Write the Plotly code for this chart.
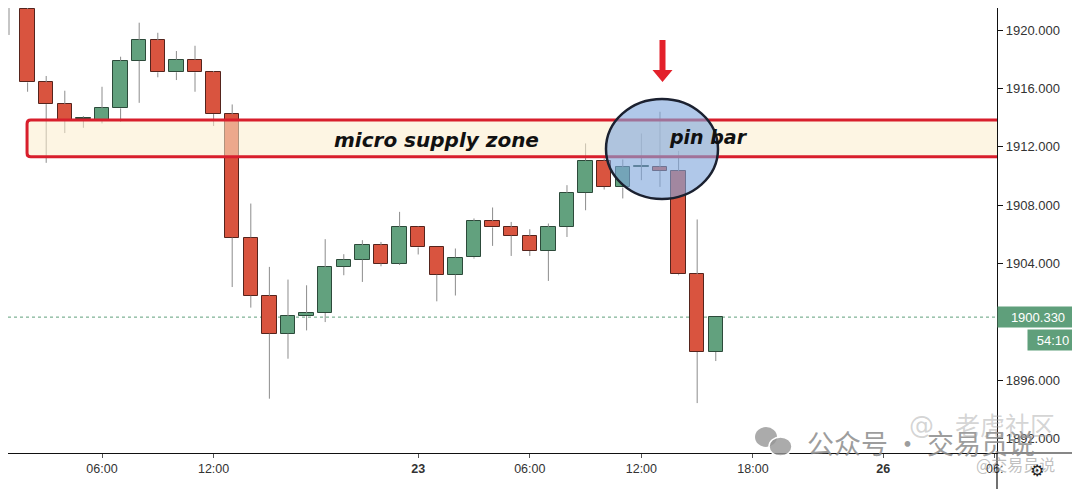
import plotly.graph_objects as go

# ---------------- data (hourly candles, index positions) ----------------
opens = [1921.5, 1921.44, 1916.41, 1914.92, 1913.9, 1913.83, 1914.63, 1917.89, 1919.29, 1917.1,
         1917.96, 1917.1, 1914.22, 1905.78, 1901.78, 1899.2, 1900.4, 1900.61, 1903.77, 1904.27,
         1905.25, 1904.0, 1906.51, 1905.1, 1903.24, 1904.43, 1906.92, 1906.47, 1905.89, 1904.86,
         1906.51, 1908.84, 1911.04, 1909.21, 1910.62, 1910.62, 1910.33, 1903.26, 1897.94]
highs = [1922.5, 1922.3, 1916.85, 1915.84, 1914.1, 1916.11, 1918.17, 1920.5, 1919.81, 1918.56,
         1918.92, 1917.19, 1914.9, 1908.11, 1903.77, 1902.9, 1902.51, 1905.67, 1904.64, 1905.6,
         1905.48, 1907.54, 1906.55, 1905.1, 1905.03, 1907.09, 1907.84, 1906.85, 1906.35, 1906.74,
         1909.37, 1912.23, 1911.2, 1911.13, 1912.91, 1914.4, 1911.72, 1907.02, 1900.33]
lows = [1919.66, 1915.77, 1910.9, 1912.94, 1913.3, 1913.6, 1913.71, 1915.01, 1916.76, 1916.57,
        1915.77, 1913.42, 1902.39, 1900.98, 1894.74, 1897.48, 1899.42, 1899.99, 1903.2, 1902.74,
        1903.81, 1903.9, 1904.62, 1901.41, 1901.81, 1904.34, 1905.21, 1904.52, 1904.52, 1902.81,
        1905.82, 1907.65, 1909.07, 1908.46, 1909.71, 1909.25, 1903.2, 1894.44, 1897.32]
closes = [1921.5, 1916.41, 1914.92, 1913.83, 1914.0, 1914.63, 1917.87, 1919.29, 1917.1, 1917.96,
          1917.1, 1914.24, 1905.78, 1901.8, 1899.2, 1900.38, 1900.61, 1903.74, 1904.27, 1905.25,
          1904.0, 1906.51, 1905.1, 1903.24, 1904.41, 1906.92, 1906.47, 1905.92, 1904.86, 1906.51,
          1908.84, 1911.04, 1909.25, 1910.58, 1910.62, 1910.35, 1903.26, 1897.94, 1900.33]

tick_positions = [5, 11, 22, 28, 34, 40, 47, 53]
tick_labels = ["06:00", "12:00", "<b>23</b>", "06:00", "12:00", "18:00", "<b>26</b>", "06:"]

last_price = 1900.33
countdown = "54:10"
zone_low, zone_high = 1911.31, 1913.83

# ---------------- styling ----------------
UP_FILL, UP_LINE = "#62a17e", "#2c4a3a"
DN_FILL, DN_LINE = "#d9543f", "#55241d"
WICK = "#8c8c8c"
OFF = 8                      # page body margin
PLOT_W, PLOT_H = 989, 445    # plot area in figure pixels


def px(x):  # page pixel -> paper fraction
    return (x - OFF) / PLOT_W


def py(y):
    return 1 - (y - OFF) / PLOT_H


idx = list(range(len(opens)))

wx, wy = [], []
for i, o, h, l, c in zip(idx, opens, highs, lows, closes):
    top, bot = max(o, c), min(o, c)
    wx += [i, i, None, i, i, None]
    wy += [h, top, None, bot, l, None]

fig = go.Figure()
fig.add_trace(go.Scatter(x=wx, y=wy, mode="lines", line=dict(color=WICK, width=1),
                         hoverinfo="skip", showlegend=False))

bases, heights, fills, lines = [], [], [], []
for o, c in zip(opens, closes):
    bases.append(min(o, c))
    heights.append(max(abs(c - o), 0.06))
    up = c >= o
    fills.append(UP_FILL if up else DN_FILL)
    lines.append(UP_LINE if up else DN_LINE)

fig.add_trace(go.Bar(x=idx, y=heights, base=bases, width=0.78,
                     marker=dict(color=fills, line=dict(color=lines, width=1)),
                     showlegend=False, hoverinfo="skip"))

shapes = []
shapes.append(dict(type="line", xref="paper", x0=0, x1=1, yref="y", y0=last_price, y1=last_price,
                   line=dict(color="#5f9f7b", width=1, dash="dot"), layer="below"))
x0z, x1z = 0.97, 60
rx, ry = 0.2, 0.25
zone_path = (f"M {x1z},{zone_high} L {x0z+rx},{zone_high} Q {x0z},{zone_high} {x0z},{zone_high-ry} "
             f"L {x0z},{zone_low+ry} Q {x0z},{zone_low} {x0z+rx},{zone_low} L {x1z},{zone_low} Z")
shapes.append(dict(type="path", xref="x", yref="y", path=zone_path,
                   fillcolor="rgba(251,236,204,0.55)", line=dict(color="#d81e2c", width=3),
                   layer="above"))
shapes.append(dict(type="circle", xref="paper", yref="paper",
                   x0=px(606), x1=px(718), y0=py(199), y1=py(99),
                   fillcolor="rgba(128,166,220,0.62)", line=dict(color="#1b2130", width=2.5),
                   layer="above"))
shapes.append(dict(type="path", xref="paper", yref="paper",
                   path=(f"M {px(659.5)},{py(40)} L {px(665.5)},{py(40)} L {px(665.5)},{py(70)} "
                         f"L {px(672.5)},{py(70)} L {px(662.5)},{py(82)} L {px(652.5)},{py(70)} "
                         f"L {px(659.5)},{py(70)} Z"),
                   fillcolor="#e3212b", line=dict(width=0), layer="above"))
shapes.append(dict(type="line", xref="paper", yref="paper", x0=1, x1=1, y0=0, y1=py(489),
                   line=dict(color="#111", width=1.2)))
shapes.append(dict(type="line", xref="paper", yref="paper", x0=1, x1=px(1080), y0=0, y1=0,
                   line=dict(color="#111", width=1.2)))
shapes.append(dict(type="circle", xref="paper", yref="paper", x0=px(755), x1=px(777),
                   y0=py(447), y1=py(427), fillcolor="rgba(150,150,150,0.8)", line=dict(width=0)))
shapes.append(dict(type="circle", xref="paper", yref="paper", x0=px(769), x1=px(792),
                   y0=py(456), y1=py(437), fillcolor="rgba(150,150,150,0.8)",
                   line=dict(color="white", width=1.5)))


def note(text, x, y, size, color, family="DejaVu Sans", xanchor="center", **kw):
    d = dict(text=text, xref="paper", yref="paper", x=px(x), y=py(y), xanchor=xanchor,
             yanchor="middle", showarrow=False, font=dict(family=family, size=size, color=color))
    d.update(kw)
    return d


annotations = [
    note("<b><i>micro supply zone</i></b>", 436, 140, 20, "#111"),
    note("<b><i>pin bar</i></b>", 708, 137, 19, "#111"),
    dict(text=f"{last_price:.3f}", xref="paper", yref="y", x=1, y=last_price, xanchor="left",
         yanchor="middle", showarrow=False, bgcolor="#5f9f7b", width=78, height=18, borderpad=1,
         align="center", font=dict(family="Liberation Sans", size=13, color="white")),
    note(countdown, 1027, 340, 13, "white", family="Liberation Sans", xanchor="left",
         bgcolor="#5f9f7b", width=48, height=18, borderpad=1, align="center"),
    note("公众号 · 交易员说", 805, 442, 27, "rgba(140,140,140,0.85)", family="Noto Sans CJK SC",
         xanchor="left"),
    note("老虎社区", 1005, 424, 25, "rgba(160,160,160,0.45)", family="Noto Sans CJK SC"),
    note("@", 921, 425, 25, "rgba(160,160,160,0.45)"),
    note("@交易员说", 1015, 464, 16, "rgba(150,150,150,0.6)", family="Noto Sans CJK SC"),
    note("⚙", 1037, 471, 16, "#222"),
]

fig.update_layout(
    width=1072, height=481,
    margin=dict(l=0, r=83, t=0, b=36, autoexpand=False),
    paper_bgcolor="white", plot_bgcolor="white",
    showlegend=False, bargap=0,
    shapes=shapes, annotations=annotations,
    xaxis=dict(range=[-0.054, 53.12], tickmode="array", tickvals=tick_positions, ticktext=tick_labels,
               showgrid=False, zeroline=False, showline=True, linecolor="#111", linewidth=1.2,
               ticks="outside", ticklen=4, tickcolor="#555",
               tickfont=dict(family="Liberation Sans", size=12.5, color="#333")),
    yaxis=dict(range=[1891.02, 1921.507], side="right", dtick=4, tick0=1892, tickformat=".3f",
               showgrid=False, zeroline=False, showline=True, linecolor="#111", linewidth=1.2,
               ticks="outside", ticklen=5, tickcolor="#111",
               tickfont=dict(family="Liberation Sans", size=13, color="#333")),
)

fig.write_html("out.html")
